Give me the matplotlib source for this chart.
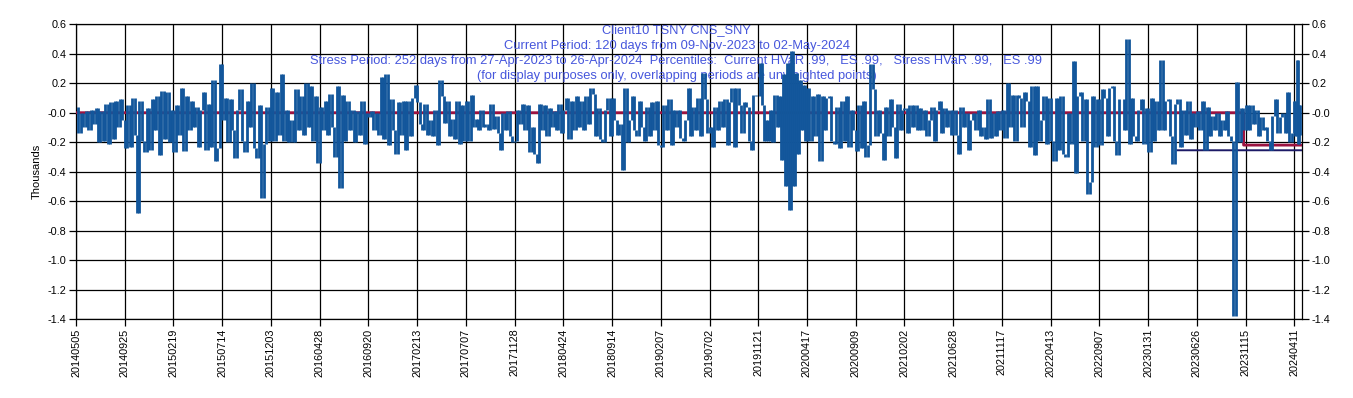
import numpy as np
import matplotlib
matplotlib.use("Agg")
import matplotlib.pyplot as plt

plt.rcParams["font.family"] = ["Liberation Sans", "DejaVu Sans"]

# tick labels on the category axis (one every 100 trading days)
tick_labels = [
    "20140505", "20140925", "20150219", "20150714", "20151203", "20160428",
    "20160920", "20170213", "20170707", "20171128", "20180424", "20180914",
    "20190207", "20190702", "20191121", "20200417", "20200909", "20210202",
    "20210628", "20211117", "20220413", "20220907", "20230131", "20230626",
    "20231115", "20240411",
]
days_per_tick = 100
n_days = 2516  # 20140505 .. 20240502

y_ticks = [0.6, 0.4, 0.2, 0.0, -0.2, -0.4, -0.6, -0.8, -1.0, -1.2, -1.4]
y_tick_labels = ["0.6", "0.4", "0.2", "-0.0", "-0.2", "-0.4", "-0.6",
                 "-0.8", "-1.0", "-1.2", "-1.4"]

# daily P&L (thousands)
pnl_20140505 = [0.04, -0.14, 0.0, -0.10, 0.01, -0.12, 0.02, -0.08, 0.03, -0.20,
                0.01, -0.19, 0.06, -0.21, 0.07, -0.18, 0.08, -0.10, 0.09, -0.05]
pnl_20140925 = [-0.24, 0.05, -0.23, 0.10, -0.15, -0.68, 0.08, -0.19, -0.27, 0.03,
                -0.25, 0.09, -0.12, 0.11, -0.29, 0.15, -0.18, 0.14, -0.20, 0.02]
pnl_20150219 = [-0.27, 0.05, -0.15, 0.17, -0.26, 0.11, -0.12, 0.08, -0.10, 0.04,
                -0.23, 0.02, 0.14, -0.25, 0.06, -0.23, 0.22, -0.33, -0.24, 0.33]
pnl_20150714 = [-0.05, 0.10, -0.20, 0.09, -0.12, -0.31, 0.02, 0.16, -0.19, -0.27,
                0.08, -0.10, 0.20, -0.24, -0.31, 0.05, -0.58, -0.21, 0.04, -0.19]
pnl_20151203 = [0.17, -0.19, 0.14, -0.15, 0.26, -0.19, 0.02, -0.20, -0.05, -0.20,
                0.16, -0.12, 0.11, -0.15, 0.20, -0.10, 0.18, -0.19, 0.11, -0.34]
pnl_20160428 = [0.04, -0.12, 0.08, -0.15, 0.13, -0.10, -0.30, 0.18, -0.51, 0.12,
                -0.19, 0.08, -0.12, 0.02, -0.20, 0.01, -0.15, 0.08, -0.21, 0.0]
pnl_20160920 = [-0.03, 0.01, -0.12, 0.0, -0.15, 0.24, -0.18, 0.26, -0.22, 0.09,
                -0.12, -0.28, 0.07, -0.15, 0.08, -0.25, 0.08, -0.16, 0.10, 0.19]
pnl_20170213 = [0.07, -0.08, -0.12, 0.06, -0.15, -0.05, -0.16, 0.02, -0.22, 0.22,
                0.11, -0.07, 0.08, -0.16, -0.04, -0.18, 0.08, -0.21, 0.05, -0.19]
pnl_20170707 = [0.08, -0.19, 0.12, -0.10, -0.04, -0.12, 0.02, -0.10, -0.08, -0.12,
                0.06, -0.11, -0.02, -0.14, -0.25, 0.0, -0.12, 0.01, -0.16, -0.20]
pnl_20171128 = [-0.19, 0.02, -0.08, 0.06, -0.12, 0.05, -0.27, -0.10, -0.28, -0.34,
                0.06, -0.12, 0.05, -0.16, 0.03, -0.10, 0.01, -0.12, 0.06, -0.14]
pnl_20180424 = [0.02, 0.10, -0.18, 0.08, -0.12, 0.11, -0.10, 0.08, -0.12, 0.11,
                -0.08, 0.17, 0.13, -0.16, 0.03, -0.18, -0.20, 0.02, 0.10, -0.16]
pnl_20180914 = [0.10, -0.05, -0.15, -0.08, -0.39, 0.17, -0.20, -0.05, 0.11, -0.12,
                -0.16, 0.08, -0.10, -0.19, 0.04, -0.16, 0.07, -0.12, 0.08, -0.22]
pnl_20190207 = [-0.23, 0.05, -0.12, 0.09, -0.22, 0.02, -0.10, 0.02, -0.17, -0.19,
                -0.05, 0.17, -0.16, 0.04, -0.12, 0.10, -0.16, 0.27, 0.09, -0.14]
pnl_20190702 = [-0.10, -0.23, 0.04, -0.12, 0.08, -0.10, 0.09, -0.22, 0.07, 0.17,
                -0.23, 0.17, 0.05, -0.14, 0.07, 0.04, -0.19, -0.25, 0.12, 0.11]
pnl_20191121 = [0.11, 0.34, 0.05, -0.19, -0.05, -0.19, 0.02, -0.20, 0.12, -0.10,
                0.11, -0.32, 0.26, -0.50, 0.34, -0.66, 0.42, -0.50, 0.27, -0.28,
                0.22, -0.12, 0.19, -0.19]
pnl_20200417 = [0.17, -0.19, 0.11, -0.16, 0.13, -0.33, 0.11, -0.12, 0.10, 0.11,
                -0.19, -0.21, 0.04, -0.24, 0.08, -0.19, 0.11, -0.23, 0.02, -0.12]
pnl_20200909 = [-0.26, 0.05, -0.24, 0.08, -0.30, -0.22, 0.33, 0.16, -0.16, 0.02,
                -0.14, -0.32, 0.04, -0.16, 0.09, -0.10, -0.31, 0.06, -0.12, 0.02]
pnl_20210202 = [0.03, -0.14, 0.05, -0.10, 0.05, -0.12, 0.03, -0.12, 0.02, -0.16,
                -0.05, 0.04, -0.19, 0.02, 0.08, -0.14, 0.03, -0.10, 0.02, -0.15]
pnl_20210628 = [0.02, -0.15, -0.28, 0.04, -0.10, 0.0, -0.25, -0.05, 0.0, -0.12,
                0.02, -0.16, -0.10, -0.18, 0.09, -0.17, 0.0, -0.16, 0.01, -0.12]
pnl_20211117 = [0.02, -0.17, 0.20, -0.10, 0.12, -0.19, 0.12, 0.10, -0.10, 0.14,
                0.08, -0.23, 0.18, -0.29, 0.18, -0.19, -0.05, 0.11, -0.21, 0.10]
pnl_20220413 = [-0.19, -0.33, 0.10, -0.25, 0.11, -0.28, -0.30, 0.0, -0.21, 0.35,
                -0.41, 0.11, 0.14, -0.19, 0.09, -0.55, -0.47, 0.11, -0.23, 0.09]
pnl_20220907 = [-0.22, 0.16, 0.10, -0.16, 0.17, 0.18, -0.19, -0.29, 0.09, 0.09,
                -0.12, 0.50, -0.21, 0.10, -0.16, -0.19, 0.02, 0.09, -0.21, 0.03]
pnl_20230131 = [-0.27, 0.10, -0.19, 0.08, -0.12, 0.36, -0.12, 0.08, 0.09, -0.16,
                -0.35, 0.06, 0.09, -0.23, 0.02, -0.15, 0.08, -0.18, 0.0, -0.10]
pnl_20230626 = [0.01, -0.12, 0.08, -0.25, 0.04, -0.16, -0.02, -0.12, 0.0, -0.16,
                -0.05, -0.12, 0.01, -0.16, -0.19, -1.38, 0.21, -0.20, 0.03, -0.12]
pnl_20231115 = [0.05, -0.12, 0.05, -0.08, 0.02, -0.16, -0.03, -0.12, -0.10, -0.19,
                -0.25, -0.02, 0.09, -0.14, -0.03, 0.0, -0.14, 0.14, -0.20, -0.14]
pnl_20240411 = [0.08, -0.16, 0.36, -0.21, 0.05, -0.15]

intervals = [
    pnl_20140505, pnl_20140925, pnl_20150219, pnl_20150714, pnl_20151203,
    pnl_20160428, pnl_20160920, pnl_20170213, pnl_20170707, pnl_20171128,
    pnl_20180424, pnl_20180914, pnl_20190207, pnl_20190702, pnl_20191121,
    pnl_20200417, pnl_20200909, pnl_20210202, pnl_20210628, pnl_20211117,
    pnl_20220413, pnl_20220907, pnl_20230131, pnl_20230626, pnl_20231115,
    pnl_20240411,
]

# percentile lines
base_level = 0.0
current_days = 120
current_hvar = -0.22
stress_days = 252
stress_end_idx = 2511  # 26-Apr-2024
stress_hvar = -0.255

title_lines = [
    "Client10 TSNY CNS_SNY",
    "Current Period: 120 days from 09-Nov-2023 to 02-May-2024",
    "Stress Period: 252 days from 27-Apr-2023 to 26-Apr-2024  Percentiles:  "
    "Current HVaR .99,   ES .99,   Stress HVaR .99,   ES .99",
    "(for display purposes only, overlapping periods are unweighted points)",
]

# spread each interval's values over its trading days
xs, ys = [], []
for i, vals in enumerate(intervals):
    start = i * days_per_tick
    span = min(days_per_tick, n_days - 1 - start)
    k = len(vals)
    xs.extend(start + (np.arange(k) + 0.5) * span / k)
    ys.extend(vals)
xs = np.array(xs)
ys = np.array(ys)

# a dense daily line is drawn as the vertical strokes between neighbours
seg_x = (xs[:-1] + xs[1:]) / 2
seg_lo = np.minimum(ys[:-1], ys[1:])
seg_hi = np.maximum(ys[:-1], ys[1:])

idx = np.arange(n_days)
current_line = np.where(idx >= n_days - current_days, current_hvar, base_level)
stress_line = np.where((idx >= stress_end_idx - stress_days + 1), stress_hvar, np.nan)

fig = plt.figure(figsize=(13.53, 3.98), dpi=100)
ax = fig.add_axes([0.0562, 0.1985, 0.9058, 0.7405])

ax.plot(idx, current_line, color="#9c1341", lw=2.0, zorder=3, drawstyle="steps-post")
ax.plot(idx, stress_line, color="#1c1a66", lw=1.4, zorder=3)
ax.vlines(seg_x, seg_lo, seg_hi, color="#12569b", lw=2.0, zorder=4)

ax.set_xlim(0, n_days - 1)
ax.set_ylim(-1.4, 0.6)
ax.set_xticks([i * days_per_tick for i in range(len(tick_labels))])
ax.set_xticklabels(tick_labels, rotation=90, fontsize=7.8)
ax.set_yticks(y_ticks)
ax.set_yticklabels(y_tick_labels, fontsize=7.8)
ax.tick_params(axis="both", direction="out", length=5, width=0.9, color="black", pad=2)
ax.tick_params(axis="y", right=True, labelright=True)
ax.grid(True, color="black", lw=0.9, zorder=0)
ax.set_axisbelow(True)
for s in ax.spines.values():
    s.set_color("black")
    s.set_linewidth(0.9)
ax.set_ylabel("Thousands", fontsize=8, labelpad=4)

for j, line in enumerate(title_lines):
    ax.text(0.5, 1 - (30 + 15.5 * j) / 398, line, transform=fig.transFigure,
            ha="center", va="center", fontsize=9.3, color="#4656dc", zorder=2)

fig.savefig("out.png", dpi=100)
